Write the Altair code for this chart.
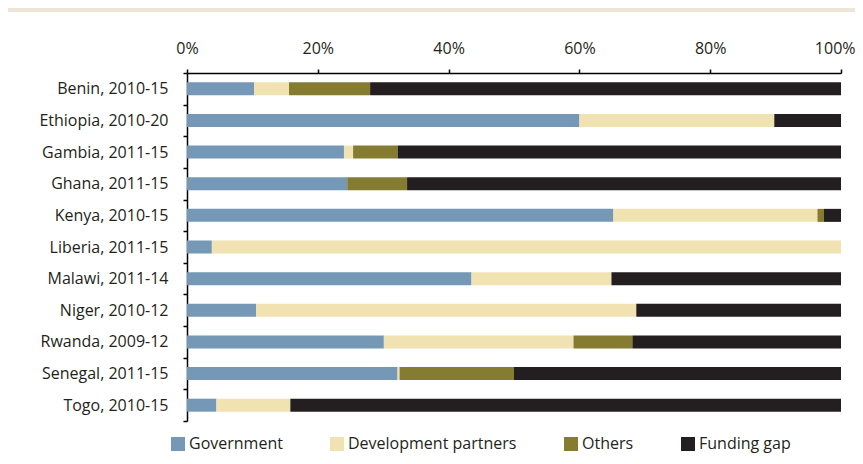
import altair as alt
import pandas as pd

countries = ["Benin, 2010-15", "Ethiopia, 2010-20", "Gambia, 2011-15", "Ghana, 2011-15",
             "Kenya, 2010-15", "Liberia, 2011-15", "Malawi, 2011-14", "Niger, 2010-12",
             "Rwanda, 2009-12", "Senegal, 2011-15", "Togo, 2010-15"]
sources = ["Government", "Development partners", "Others", "Funding gap"]
colors = ["#7598b6", "#f0e2b1", "#857b31", "#231f20"]

government = [10.25, 60.0, 24.0, 24.5, 65.2, 3.8, 43.5, 10.55, 30.1, 32.2, 4.5]
development = [5.35, 29.8, 1.4, 0.0, 31.2, 96.2, 21.4, 58.15, 29.0, 0.3, 11.3]
others = [12.4, 0.0, 6.8, 9.15, 1.0, 0.0, 0.0, 0.0, 9.0, 17.5, 0.0]
gap = [72.0, 10.2, 67.8, 66.35, 2.6, 0.0, 35.1, 31.3, 31.9, 50.0, 84.2]
x_ticks = [0, 20, 40, 60, 80, 100]

series = [government, development, others, gap]
rows = []
for si, (src, vals) in enumerate(zip(sources, series)):
    for c, v in zip(countries, vals):
        rows.append({"country": c, "source": src, "share": v, "order": si})
df = pd.DataFrame(rows)

font = "Open Sans"
ink = "#231f20"

bars = alt.Chart(df).mark_bar(size=13).encode(
    y=alt.Y("country:N", sort=countries, title=None,
            scale=alt.Scale(paddingInner=0, paddingOuter=0),
            axis=alt.Axis(orient="left", tickBand="extent", tickSize=4, labelPadding=15,
                          labelFontSize=16, labelFont=font, labelColor=ink,
                          domainColor="black", tickColor="black", domainWidth=1.5, tickWidth=1.5)),
    x=alt.X("share:Q", stack="zero", title=None,
            scale=alt.Scale(domain=[0, 100], nice=False),
            axis=alt.Axis(orient="top", values=x_ticks,
                          labelExpr="datum.value + '%'", labelFlush=False, labelOverlap=False,
                          labelAlign=alt.ExprRef(expr="datum.value == 100 ? 'right' : 'center'"),
                          labelOffset=alt.ExprRef(expr="datum.value == 100 ? 14 : 0"),
                          tickSize=4, labelPadding=13, labelFontSize=16, labelFont=font,
                          labelColor=ink, grid=False, domainColor="black", tickColor="black",
                          domainWidth=1.5, tickWidth=1.5)),
    color=alt.Color("source:N", sort=sources,
                    scale=alt.Scale(domain=sources, range=colors),
                    legend=alt.Legend(orient="none", legendX=-17, legendY=363, direction="horizontal",
                                      columns=4, title=None, symbolType="square", symbolSize=196,
                                      symbolStrokeWidth=0, labelFontSize=16, labelFont=font,
                                      labelColor=ink, labelOffset=3, columnPadding=46,
                                      labelLimit=300)),
    order=alt.Order("order:Q"),
)

strip_df = pd.DataFrame({"k": [0]})
strip = alt.Chart(strip_df).mark_rect(color="#ede5d8").encode(
    x=alt.value(-179), x2=alt.value(668), y=alt.value(-65), y2=alt.value(-61)
)

chart = alt.layer(strip, bars).properties(
    width=654, height=348,
    autosize=alt.AutoSizeParams(type="none"),
    padding={"left": 179, "top": 65, "right": 14, "bottom": 35},
    background="white",
).configure_view(stroke=None)

chart.save("out.html", embed_options={"renderer": "svg", "actions": False})
